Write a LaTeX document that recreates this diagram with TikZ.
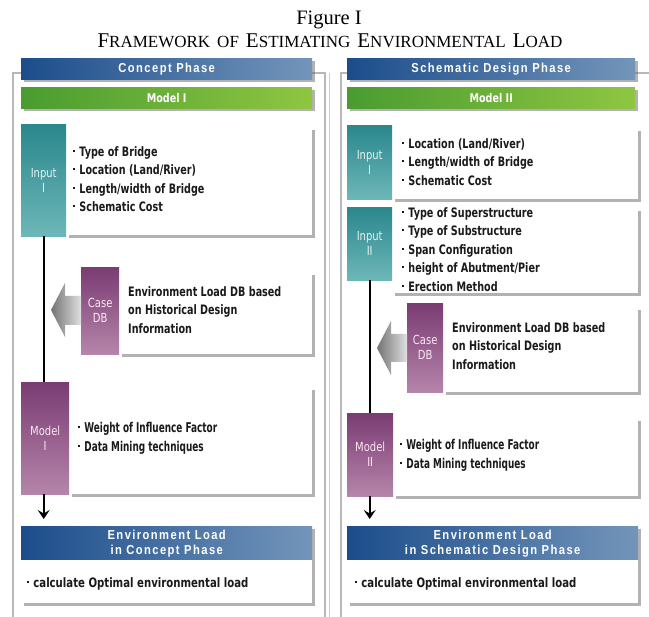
\documentclass[tikz,border=0pt]{standalone}
\usepackage{fontspec}
\setmainfont{Liberation Serif}
\newfontfamily\boxfont[FakeStretch=0.74]{DejaVu Sans}
\newfontfamily\wideboxfont[FakeStretch=0.78]{DejaVu Sans}
\newfontfamily\narrowfont[FakeStretch=0.66]{DejaVu Sans}
\newfontfamily\bannerfont[LetterSpace=11,FakeStretch=0.86]{Liberation Sans}
\newfontfamily\tagfont[FakeStretch=0.8]{DejaVu Sans}
\usetikzlibrary{shadows,arrows.meta}

\definecolor{bandL}{HTML}{1C4D8B}
\definecolor{bandR}{HTML}{7395BA}
\definecolor{greenL}{HTML}{4A9C30}
\definecolor{greenR}{HTML}{8EC641}
\definecolor{tealT}{HTML}{2A878C}
\definecolor{tealB}{HTML}{6DB7B8}
\definecolor{plumT}{HTML}{7A3C73}
\definecolor{plumB}{HTML}{B585AA}
\definecolor{frameg}{HTML}{B8B8B8}
\definecolor{ink}{HTML}{1A1A1A}

% small caps built from two sizes of the serif face
\newcommand\capsA[2]{{\fontsize{21}{24}\selectfont #1}{\fontsize{17}{18}\selectfont #2}}
\newcommand\capsB[1]{{\fontsize{17}{18}\selectfont #1}}
\newcommand\wsp{\hspace{7pt}}
% list bullet: a small square dot
\newcommand\pt{\raisebox{0.32em}{\rule{2.2pt}{2.2pt}}\hspace{4pt}}

\tikzset{
  frameline/.style={draw=frameg, line width=1.6pt},
  softshadow/.style={drop shadow={shadow xshift=2.5pt, shadow yshift=-2.5pt, fill=black!60, opacity=0.5}},
  band/.style={left color=bandL, right color=bandR, text=white, inner sep=0,
    anchor=north west, align=center, softshadow,
    font=\bannerfont\bfseries\fontsize{13}{15}\selectfont},
  greenband/.style={band, left color=greenL, right color=greenR, font=\tagfont\bfseries\fontsize{12}{14}\selectfont},
  tab/.style={inner sep=0, anchor=north west, align=center,
    font=\tagfont\fontsize{12.5}{15}\selectfont},
  inputtab/.style={tab, top color=tealT, bottom color=tealB, text=white!90!teal},
  plumtab/.style={tab, top color=plumT, bottom color=plumB, text=white!90!magenta},
  card/.style={fill=white, inner sep=0, anchor=north west, softshadow},
  cardtext/.style={inner sep=0, anchor=north west, align=left, text=ink,
    font=\boxfont\bfseries\fontsize{13}{18.5}\selectfont},
  modeltext/.style={cardtext, font=\narrowfont\bfseries\fontsize{13.5}{19}\selectfont},
  widetext/.style={cardtext, font=\wideboxfont\bfseries\fontsize{13}{18}\selectfont},
  flow/.style={draw=black, line width=2pt},
  flowarrow/.style={flow, -{Stealth[width=12pt,length=9pt,inset=3.5pt]}, shorten >=7pt},
  blockarrow/.style={left color=black!55, right color=black!12, draw=none}
}

\begin{document}
\begin{tikzpicture}[x=1pt,y=-1pt]
\useasboundingbox (0,0) rectangle (649,617);
\fill[white] (0,0) rectangle (649,617);

% heading
\node[anchor=base, inner sep=0, font=\fontsize{20.5}{24}\selectfont] (fig) at (329,25) {Figure I};
\node[anchor=base, inner sep=0] (ttl) at (330,48)
  {\capsA{F}{RAMEWORK}\wsp\capsB{OF}\wsp\capsA{E}{STIMATING}\wsp\capsA{E}{NVIRONMENTAL}\wsp\capsA{L}{OAD}};

% panel frames
\draw[frameline] (13,617) -- (13,73) -- (325,73) -- (325,617);
\draw[draw=frameg!70, line width=1pt] (329.5,73) -- (329.5,617);
\draw[frameline] (341,617) -- (341,73) -- (649,73);

% ---------------- concept phase ----------------
\node[band, minimum width=291, minimum height=21] (cp) at (21,58) {Concept Phase};
\node[greenband, minimum width=291, minimum height=21] (m1) at (21,87) {Model I};

\node[card, minimum width=246, minimum height=108] (in1c) at (66,127) {};
\node[inputtab, minimum width=45, minimum height=112] (in1) at (21,124) {Input\\I};
\node[cardtext] (in1t) at (73,146)
  {\pt Type of Bridge\\ \pt Location (Land/River)\\ \pt Length/width of Bridge\\ \pt Schematic Cost};

\node[card, minimum width=193, minimum height=82] (db1c) at (119,272) {};
\node[plumtab, minimum width=38, minimum height=87] (db1) at (81,267) {Case\\DB};
\node[cardtext] (db1t) at (128,286)
  {Environment Load DB based\\on Historical Design\\Information};
\shade[blockarrow] (51,310) -- (65,283) -- (65,296) -- (81,296) -- (81,325) -- (65,325) -- (65,337) -- cycle;

\node[card, minimum width=243, minimum height=107] (mo1c) at (69,387) {};
\node[plumtab, minimum width=48, minimum height=112] (mo1) at (21,382) {Model\\I};
\node[modeltext] (mo1t) at (78,422)
  {\pt Weight of Influence Factor\\ \pt Data Mining techniques};

\node[band, minimum width=291, minimum height=34] (e1) at (21,526) {Environment Load\\in Concept Phase};
\node[card, minimum width=291, minimum height=43] (e1c) at (21,560) {};
\node[widetext] (e1t) at (27,577)
  {\pt calculate Optimal environmental load};

\draw[flow] (in1.south) -- (in1.south |- mo1.north);
\draw[flowarrow] (in1.south |- mo1.south) -- (in1.south |- e1.north);

% ---------------- schematic design phase ----------------
\node[band, minimum width=288, minimum height=21] (sp) at (347,58) {Schematic Design Phase};
\node[greenband, minimum width=288, minimum height=21] (m2) at (347,87) {Model II};

\node[card, minimum width=246, minimum height=71] (in2c) at (392,128) {};
\node[inputtab, minimum width=45, minimum height=74] (in2) at (347,125) {Input\\I};
\node[cardtext] (in2t) at (402,138)
  {\pt Location (Land/River)\\ \pt Length/width of Bridge\\ \pt Schematic Cost};

\node[card, minimum width=246, minimum height=85] (in3c) at (392,208) {};
\node[inputtab, minimum width=45, minimum height=73] (in3) at (347,207) {Input\\II};
\node[cardtext] (in3t) at (402,207)
  {\pt Type of Superstructure\\ \pt Type of Substructure\\ \pt Span Configuration\\ \pt height of Abutment/Pier\\ \pt Erection Method};

\node[card, minimum width=195, minimum height=85] (db2c) at (443,307) {};
\node[plumtab, minimum width=36, minimum height=89] (db2) at (407,303) {Case\\DB};
\node[cardtext] (db2t) at (452,322)
  {Environment Load DB based\\on Historical Design\\Information};
\shade[blockarrow] (377,348) -- (391,321) -- (391,334) -- (407,334) -- (407,362) -- (391,362) -- (391,375) -- cycle;

\node[card, minimum width=245, minimum height=78] (mo2c) at (393,418) {};
\node[plumtab, minimum width=46, minimum height=83] (mo2) at (347,413) {Model\\II};
\node[modeltext] (mo2t) at (400,439)
  {\pt Weight of Influence Factor\\ \pt Data Mining techniques};

\node[band, minimum width=291, minimum height=34] (e2) at (347,526) {Environment Load\\in Schematic Design Phase};
\node[card, minimum width=291, minimum height=43] (e2c) at (347,560) {};
\node[widetext] (e2t) at (355,577)
  {\pt calculate Optimal environmental load};

\draw[flow] (in3.south) -- (in3.south |- mo2.north);
\draw[flowarrow] (in3.south |- mo2.south) -- (in3.south |- e2.north);
\end{tikzpicture}
\end{document}
